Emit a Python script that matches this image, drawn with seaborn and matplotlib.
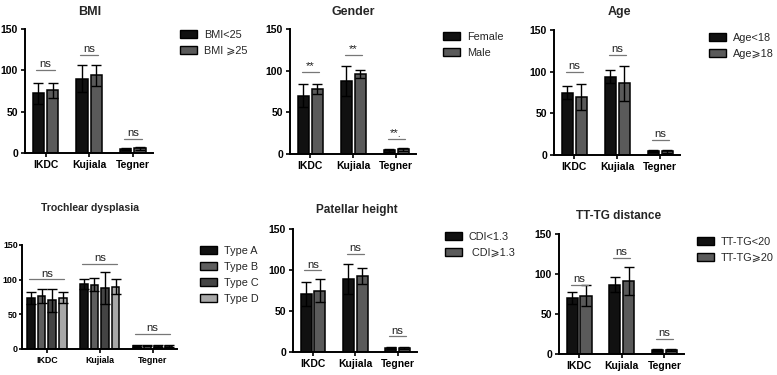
import numpy as np
import pandas as pd
import seaborn as sns
import matplotlib
matplotlib.use("Agg")
import matplotlib.pyplot as plt
from matplotlib.patches import Patch

categories = ["IKDC", "Kujiala", "Tegner"]

bmi_groups = ["BMI<25", "BMI ⩾25"]
bmi_mean = [[72, 90, 5.0], [76, 94, 5.5]]
bmi_sd = [[13, 16, 1.5], [9, 13, 1.8]]
bmi_sig = ["ns", "ns", "ns"]

gender_groups = ["Female", "Male"]
gender_mean = [[70, 88, 4.5], [78, 96, 5.5]]
gender_sd = [[14, 18, 1.5], [6, 5, 1.3]]
gender_sig = ["**", "**", "**."]

age_groups = ["Age<18", "Age⩾18"]
age_mean = [[75, 94, 5.0], [70, 86, 4.5]]
age_sd = [[7.5, 7.5, 1.5], [15.5, 21, 1.8]]
age_sig = ["ns", "ns", "ns"]

troch_groups = ["Type A", "Type B", "Type C", "Type D"]
troch_mean = [[73, 93.5, 4.5], [76.5, 93, 5.0], [70, 87.5, 4.5], [74, 90, 4.8]]
troch_sd = [[8.5, 7, 1.3], [10, 10, 1.3], [16.5, 23, 1.3], [8, 11, 1.3]]
troch_sig = ["ns", "ns", "ns"]

pat_groups = ["CDI<1.3", " CDI⩾1.3"]
pat_mean = [[71, 89, 5.0], [75, 92.5, 5.0]]
pat_sd = [[14.5, 18, 1.5], [14, 9.5, 1.5]]
pat_sig = ["ns", "ns", "ns"]

tt_groups = ["TT-TG<20", "TT-TG⩾20"]
tt_mean = [[70, 86.5, 4.5], [73, 91, 5.0]]
tt_sd = [[7.5, 9.5, 1.3], [13, 17.5, 1.3]]
tt_sig = ["ns", "ns", "ns"]

yticks = [0, 50, 100, 150]

sns.set_theme(style="ticks")
plt.rcParams["font.family"] = ["Liberation Sans", "DejaVu Sans"]

W, H = 777, 375
fig = plt.figure(figsize=(W / 100, H / 100), dpi=100)


def ax_at(l, r, t, b):
    return fig.add_axes([l / W, 1 - b / H, (r - l) / W, (b - t) / H])


panels = [
    dict(title="BMI", groups=bmi_groups, mean=bmi_mean, sd=bmi_sd, sig=bmi_sig,
         box=(25, 153, 29, 153), title_xy=(90, 12), title_fs=9, leg_xy=(180, 30),
         sig_y=[100.5, 118.5, 17], span=0.21, tick_fs=7.5,
         colors=["#111111", "#5a5a5a"], width=0.65, gap=0.2),
    dict(title="Gender", groups=gender_groups, mean=gender_mean, sd=gender_sd, sig=gender_sig,
         box=(290, 416, 29, 154), title_xy=(353, 12), title_fs=9, leg_xy=(443, 32),
         sig_y=[98, 119, 17.5], span=0.2, tick_fs=7.5,
         colors=["#111111", "#5a5a5a"], width=0.65, gap=0.2),
    dict(title="Age", groups=age_groups, mean=age_mean, sd=age_sd, sig=age_sig,
         box=(554, 680, 30, 155), title_xy=(619, 12), title_fs=9, leg_xy=(709, 33),
         sig_y=[100, 120, 18.5], span=0.2, tick_fs=7.5,
         colors=["#111111", "#5a5a5a"], width=0.65, gap=0.2),
    dict(title="Trochlear dysplasia", groups=troch_groups, mean=troch_mean, sd=troch_sd, sig=troch_sig,
         box=(22, 177, 245, 349), title_xy=(90, 208), title_fs=7.6, leg_xy=(200, 246),
         sig_y=[100.5, 122.5, 21.5], span=0.33, tick_fs=6.4,
         colors=["#111111", "#5e5e5e", "#444444", "#a8a8a8"], width=0.8, gap=0.28),
    dict(title="Patellar height", groups=pat_groups, mean=pat_mean, sd=pat_sd, sig=pat_sig,
         box=(293, 417, 229, 352), title_xy=(357, 210), title_fs=8.5, leg_xy=(445, 232),
         sig_y=[99.5, 119.5, 19], span=0.2, tick_fs=7.5,
         colors=["#111111", "#5a5a5a"], width=0.65, gap=0.2),
    dict(title="TT-TG distance", groups=tt_groups, mean=tt_mean, sd=tt_sd, sig=tt_sig,
         box=(559, 684, 234, 354), title_xy=(619, 216), title_fs=8.5, leg_xy=(697, 237),
         sig_y=[86.5, 120.5, 19], span=0.2, tick_fs=7.5,
         colors=["#111111", "#5a5a5a"], width=0.65, gap=0.2),
]

for p in panels:
    ax = ax_at(*p["box"])
    rows = []
    for g, ms in zip(p["groups"], p["mean"]):
        for c, m in zip(categories, ms):
            rows.append(dict(cat=c, group=g, value=m))
    df = pd.DataFrame(rows)
    sns.barplot(data=df, x="cat", y="value", hue="group", order=categories,
                hue_order=p["groups"], palette=p["colors"], errorbar=None,
                width=p["width"], gap=p["gap"], edgecolor="black", linewidth=1.1,
                saturation=1, ax=ax, legend=False)
    # error bars
    for container, sds in zip(ax.containers, p["sd"]):
        for bar, s in zip(container, sds):
            xc = bar.get_x() + bar.get_width() / 2
            ax.errorbar(xc, bar.get_height(), yerr=s, fmt="none", ecolor="black",
                        elinewidth=1.0, capsize=3.5, capthick=1.0, zorder=5)
    # significance lines
    for i, (lab, yv) in enumerate(zip(p["sig"], p["sig_y"])):
        ax.plot([i - p["span"], i + p["span"]], [yv, yv], color="#777777", lw=0.9,
                clip_on=False, zorder=6)
        ax.text(i, yv + 1.0, lab, ha="center", va="bottom", fontsize=8.2,
                color="#222222", clip_on=False)
    ax.set_ylim(0, 150)
    ax.set_xlim(-0.47, 2.46)
    ax.set_yticks(yticks)
    ax.set_xlabel("")
    ax.set_ylabel("")
    sns.despine(ax=ax)
    for sp in ["left", "bottom"]:
        ax.spines[sp].set_linewidth(1.4)
        ax.spines[sp].set_color("black")
    ax.tick_params(axis="both", length=3, width=1.2, colors="black",
                   labelsize=p["tick_fs"], pad=2)
    if p["tick_fs"] < 7:
        ax.tick_params(axis="y", length=2, pad=1)
    for lbl in ax.get_xticklabels() + ax.get_yticklabels():
        lbl.set_fontweight("bold")
    fig.text(p["title_xy"][0] / W, 1 - p["title_xy"][1] / H, p["title"],
             ha="center", va="center", fontsize=p["title_fs"], fontweight="bold")
    handles = [Patch(facecolor=c, edgecolor="black", linewidth=1.0) for c in p["colors"]]
    ax.legend(handles, p["groups"], loc="upper left",
              bbox_to_anchor=(p["leg_xy"][0] / W, 1 - p["leg_xy"][1] / H),
              bbox_transform=fig.transFigure, frameon=False, fontsize=7.8,
              borderpad=0, borderaxespad=0, handlelength=1.6, handleheight=0.7,
              handletextpad=0.6, labelspacing=0.55)

fig.savefig("out.png", dpi=100)
